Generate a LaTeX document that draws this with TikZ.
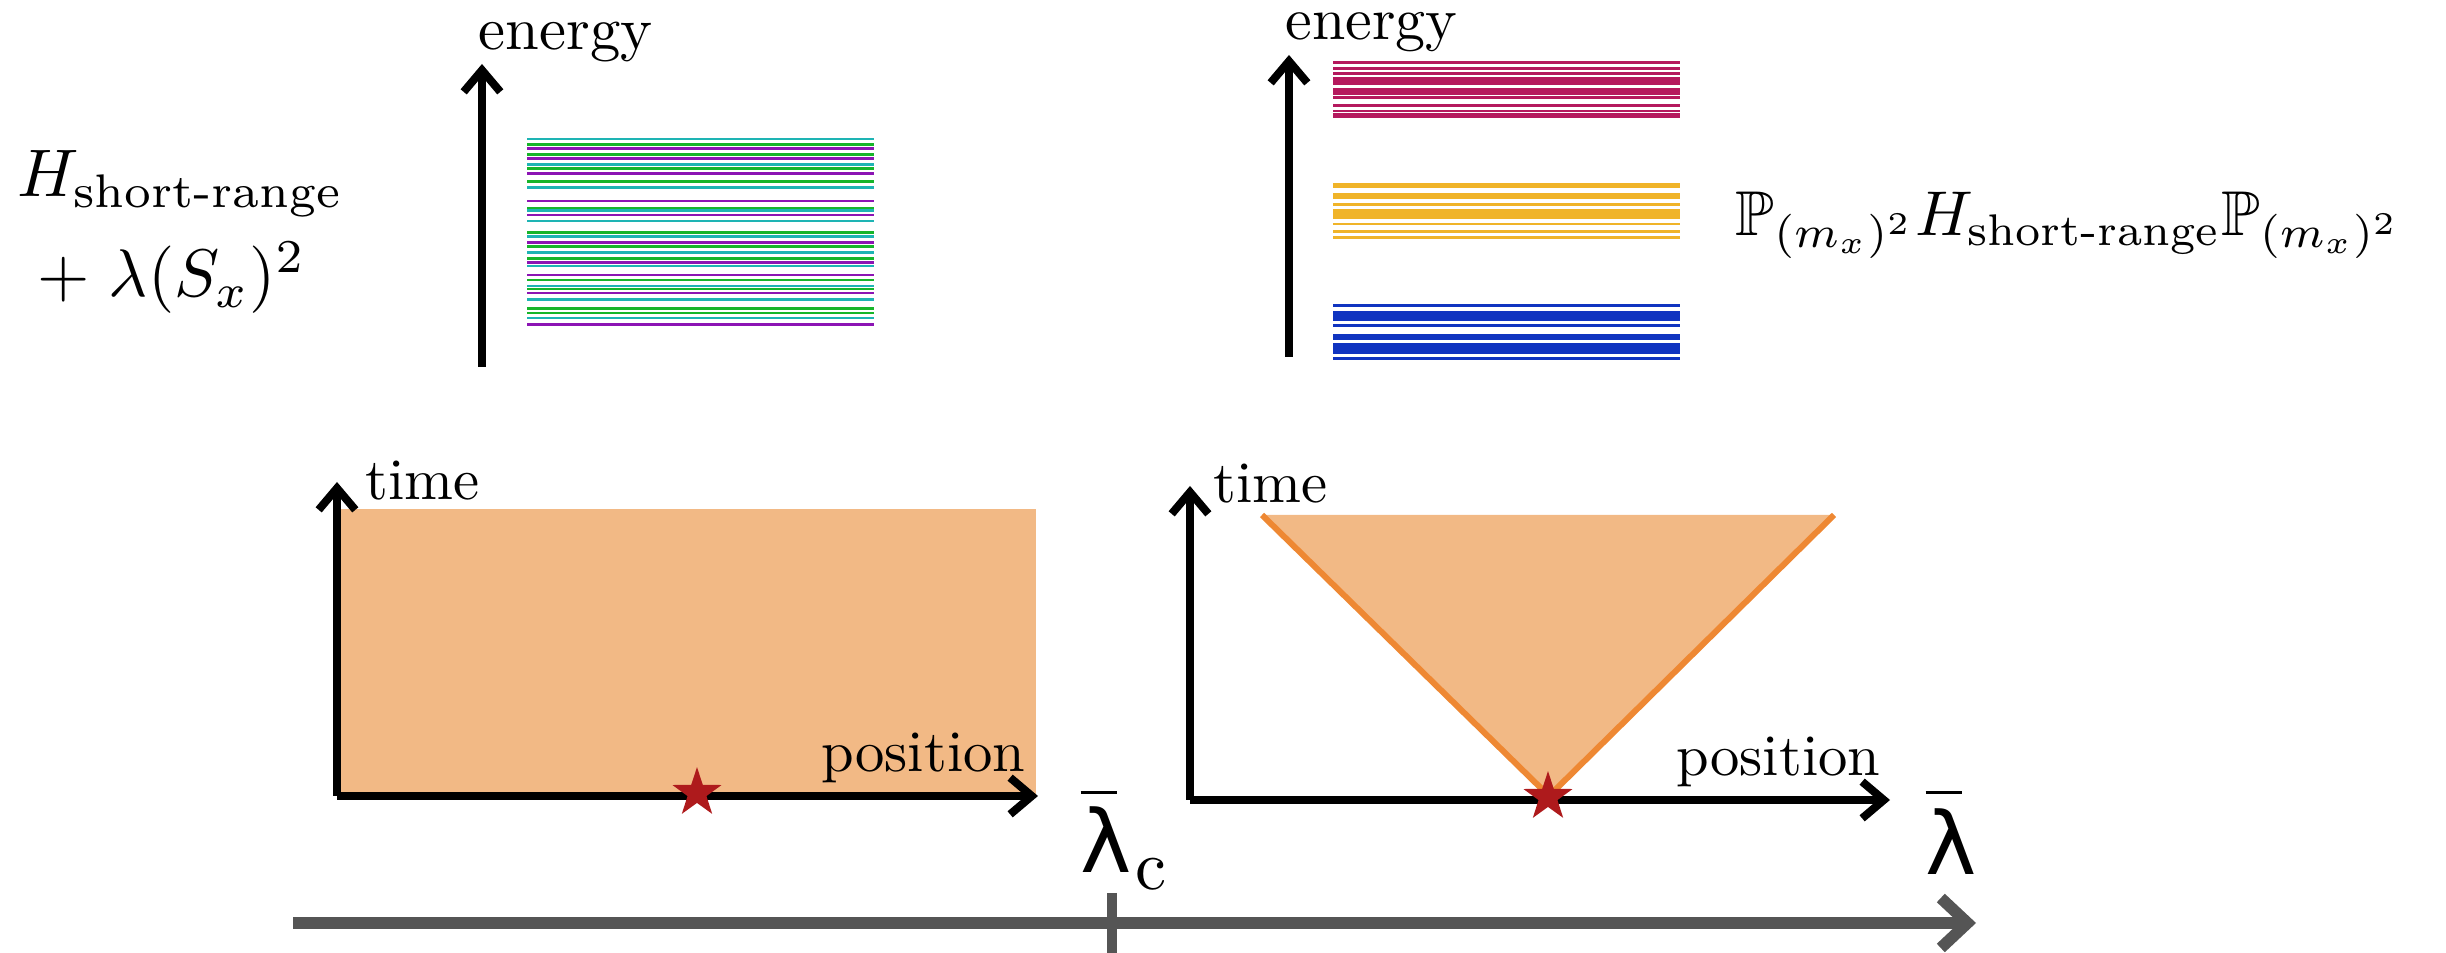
\documentclass[tikz,border=0pt]{standalone}
\usepackage{amsmath,amssymb,graphicx}
\usepackage{fontspec}
\usetikzlibrary{arrows.meta,shapes.geometric}
\newfontfamily\lamfont{DejaVu Sans}
\definecolor{cy}{HTML}{1EB4B4}
\definecolor{gr}{HTML}{17B52A}
\definecolor{pu}{HTML}{8C14B4}
\definecolor{mg}{HTML}{B5195E}
\definecolor{yl}{HTML}{F0B429}
\definecolor{bl}{HTML}{1034C0}
\definecolor{orfill}{HTML}{F2B985}
\definecolor{oredge}{HTML}{EE8833}
\definecolor{starred}{HTML}{AE1A1C}
\definecolor{axgray}{HTML}{555555}
\newcommand\wordlbl[1]{\scalebox{1.76}{#1}}
\newcommand\mathbig[1]{\scalebox{2.02}{#1}}
\begin{document}
\begin{tikzpicture}[x=0.3pt,y=-0.3pt,
  axis/.style={line width=2.4pt,-{Straight Barb[length=6.5pt,width=11pt]}},
  lbl/.style={font=\fontsize{10}{12}\selectfont,inner sep=0pt},
  lev/.style={line width=0.85pt},
  starmark/.style={star,star points=5,star point ratio=2.6,fill=starred,minimum size=15.5pt,inner sep=0pt}]
\useasboundingbox (0,0) rectangle (2446,953);

% ---------- energy spectra ----------
\foreach \y/\c in {139/cy,144.3/gr,148.7/pu,154.3/gr,158.3/pu,164.3/cy,168.7/gr,173.3/pu,181.3/gr,187.3/cy,
  201/pu,208.3/gr,210.7/cy,215/pu,221/cy,232.7/gr,236.3/cy,242.3/pu,246.3/gr,252.3/cy,258.3/gr,262.3/pu,266/cy,
  275/pu,280/gr,286/cy,289/gr,293/pu,299.3/cy,308.3/gr,313/gr,318/cy,324.7/pu}
  \draw[lev,\c] (527,\y) -- (874,\y);
\foreach \y in {62.7,68.3,73.3,78.3,80.7,83.3,89,91.7,94,97.3,105.7,111,114,116.3}
  \draw[lev,mg] (1333,\y) -- (1680,\y);
\foreach \y in {184,186.7,194.3,197.3,204.3,210.3,212.3,215,217.3,224,231.3,237.7}
  \draw[lev,yl] (1333,\y) -- (1680,\y);
\foreach \y in {305.7,312.7,315.3,317.7,320,325.7,335.3,338.3,344.7,347.3,350,352.7,358.7}
  \draw[lev,bl] (1333,\y) -- (1680,\y);

\coordinate (e1b) at (482,367); \coordinate (e1t) at (482,64);
\draw[axis] (e1b) -- (e1t);
\node[lbl,anchor=base west] (en1) at (478,50) {\scalebox{1.82}{energy}};
\coordinate (e2b) at (1289,357); \coordinate (e2t) at (1289,55);
\draw[axis] (e2b) -- (e2t);
\node[lbl,anchor=base west] (en2) at (1285,40) {\scalebox{1.8}{energy}};

\node[lbl,anchor=base west] (h1) at (17,197) {\mathbig{$H_{\text{short-range}}$}};
\node[lbl,anchor=base west] (h2) at (37,297) {\mathbig{$+\;\lambda(S_x)^2$}};
\node[lbl,anchor=base west] (pp) at (1735,236) {\scalebox{1.9}{$\mathbb{P}_{(m_x)^2}H_{\text{short-range}}\mathbb{P}_{(m_x)^2}$}};

% ---------- left space-time plot ----------
\fill[orfill] (337,509) rectangle (1036,796);
\coordinate (o1) at (337,796); \coordinate (t1) at (337,482); \coordinate (p1) at (1038,796);
\draw[axis] (o1) -- (t1);
\draw[axis] (o1) -- (p1);
\node[lbl,anchor=base west] (time1) at (365,500) {\wordlbl{time}};
\node[lbl,anchor=base east] (pos1) at (1026,772) {\wordlbl{position}};
\node[starmark] (s1) at (697,793) {};

% ---------- right space-time plot ----------
\coordinate (a) at (1262,515); \coordinate (b) at (1834,515); \coordinate (c) at (1549,796);
\fill[orfill] (a) -- (b) -- (c) -- cycle;
\draw[oredge,line width=1.8pt] (a) -- (c) -- (b);
\coordinate (o2) at (1190,800); \coordinate (t2) at (1190,486); \coordinate (p2) at (1890,800);
\draw[axis] (o2) -- (t2);
\draw[axis] (o2) -- (p2);
\node[lbl,anchor=base west] (time2) at (1213,503) {\wordlbl{time}};
\node[lbl,anchor=base east] (pos2) at (1881,776) {\wordlbl{position}};
\node[starmark] (s2) at (1548,797) {};

% ---------- lambda axis ----------
\coordinate (g0) at (293,923); \coordinate (g1) at (1976,923);
\draw[axgray,line width=3.5pt,-{Straight Barb[length=8pt,width=15pt]}] (g0) -- (g1);
\coordinate (k0) at (1112,893); \coordinate (k1) at (1112,953);
\draw[axgray,line width=3.2pt] (k0) -- (k1);
\node[inner sep=0pt,anchor=base west] (lc) at (1080,873)
  {\fontsize{26}{26}\selectfont\lamfont\makebox[0pt][l]{\rule[23.7pt]{11pt}{0.8pt}}λ\hspace{1pt}\raisebox{-5.1pt}{\fontsize{10}{12}\selectfont\rmfamily\scalebox{2.1}{c}}};
\node[inner sep=0pt,anchor=base west] (lb) at (1925,875)
  {\fontsize{26}{26}\selectfont\lamfont\makebox[0pt][l]{\rule[24.3pt]{11pt}{0.8pt}}λ};
\end{tikzpicture}
\end{document}
